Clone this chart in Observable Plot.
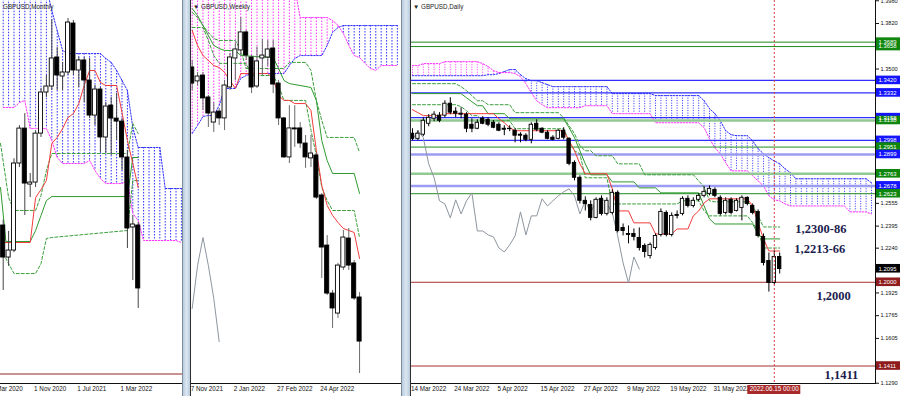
<!DOCTYPE html>
<html><head><meta charset="utf-8">
<script src="https://cdn.jsdelivr.net/npm/d3@7"></script>
<script src="https://cdn.jsdelivr.net/npm/@observablehq/plot@0.6"></script>
<style>
html,body{margin:0;padding:0;background:#fff;}
#wrap{position:relative;width:900px;height:396px;overflow:hidden;background:#fff;}
.panel{position:absolute;top:0;height:396px;overflow:hidden;}
.sep{position:absolute;top:0;height:396px;box-sizing:border-box;background:linear-gradient(to right,#b9cbdd,#dbe6f1,#b9cbdd);border-left:1px solid #7d8d9e;border-right:1px solid #2e2e2e;}
.ln{position:absolute;background:#111;}
</style></head>
<body><div id="wrap">
<div class="panel" id="p1" style="left:0;width:182px"></div>
<div class="panel" id="p2" style="left:190px;width:212px"></div>
<div class="panel" id="p3" style="left:410px;width:490px"></div>
<div class="sep" style="left:182px;width:9px"></div>
<div class="sep" style="left:401px;width:10px"></div>
<div class="ln" style="left:0;top:383px;width:182px;height:1px"></div>
<div class="ln" style="left:191px;top:383px;width:210px;height:1px"></div>
<div class="ln" style="left:411px;top:383px;width:465px;height:1px"></div>
<div class="ln" style="left:875px;top:0;width:1px;height:384px"></div>
</div>
<script>
// ================= DATA =================
// ---- Monthly (index 0 = May 2020), [open, high, low, close]
const monthlyOHLC = [
[1.2597,1.2640,1.2078,1.2341],[1.2341,1.2550,1.2270,1.2397],[1.2397,1.3130,1.2380,1.3092],
[1.3092,1.3395,1.3060,1.3371],[1.3371,1.3491,1.2677,1.2932],[1.2924,1.3012,1.2820,1.2940],
[1.2940,1.3355,1.2900,1.3331],[1.3331,1.3691,1.3300,1.3659],[1.3659,1.3795,1.3619,1.3707],
[1.3707,1.4240,1.3675,1.3931],[1.3939,1.4018,1.3675,1.3795],[1.3787,1.3899,1.3675,1.3819],
[1.3819,1.4250,1.3795,1.4218],[1.4210,1.4234,1.3795,1.3835],[1.3835,1.3939,1.3699,1.3915],
[1.3915,1.3939,1.3579,1.3755],[1.3755,1.3931,1.3451,1.3475],[1.3475,1.3715,1.3395,1.3683],
[1.3683,1.3699,1.3180,1.3300],[1.3300,1.3579,1.3172,1.3547],[1.3555,1.3619,1.3156,1.3451],
[1.3451,1.3651,1.3276,1.3427],[1.3427,1.3451,1.3036,1.3140],[1.3140,1.3196,1.2413,1.2573],
[1.2581,1.2677,1.2157,1.2605],[1.2597,1.2621,1.1934,1.2094]];
const monthlySpanA = [1.4500,1.4500,1.4500,1.4500,1.4500,1.4500,1.4500,1.4500,1.4500,1.4314,1.4154,1.3994,
1.3970,1.3970,1.3970,1.3970,1.3970,1.3970,1.3970,1.3931,1.3899,1.3835,1.3755,1.3675,1.3379,
1.3220,1.3220,1.3220,1.3220,1.3220,1.2892,1.2892,1.2892,1.2892];
const monthlySpanB = [1.3539,1.3539,1.3539,1.3579,1.3595,1.3371,1.3371,1.3371,1.3371,1.3276,1.3140,
1.3092,1.3092,1.3092,1.3092,1.3092,1.3116,1.3036,1.2972,1.2932,1.2932,1.2932,1.2932,1.2956,1.2693,1.2637,
1.2477,1.2477,1.2477,1.2477,1.2477,1.2477,1.2477,1.2461];
const monthlyTenkan = [[0,1.2461],[5,1.2461],[6,1.2820],[7,1.2884],[8,1.2956],[9,1.3252],[10,1.3300],[11,1.3371],
[12,1.3459],[13,1.3491],[14,1.3571],[15,1.3715],[16,1.3835],[17,1.3835],[18,1.3739],[19,1.3715],[21,1.3715],
[22,1.3499],[23,1.3276],[24,1.3092],[25,1.2900]];
const monthlyKijun = [[-0.5,1.2900],[0.5,1.2469],[5,1.2469],[6,1.2557],[7,1.2677],[8,1.2796],[9,1.2828],[23,1.2828],[24,1.3140],[25,1.3140]];
const monthlyDash1 = [[-0.5,1.3252],[1,1.2820],[2,1.2717],[6,1.2717],[7,1.2836],[8,1.3036],[9,1.3172],[23,1.3172],[24,1.3411],[25,1.3331]];
const monthlyDash2 = [[0,1.2373],[1,1.2293],[2,1.2213],[6,1.2213],[7,1.2293],[8,1.2493],[9,1.2501],[23,1.2557],[24,1.2956],[25,1.2956]];
const monthlyLevels = [1.1411];
const monthlyLabels = [[-2,"1 Mar 2020"],[6,"1 Nov 2020"],[14,"1 Jul 2021"],[22,"1 Mar 2022"]];

// ---- Weekly (index 0 = 7 Nov 2021)
const weeklyOHLC = [
[1.3495,1.3530,1.3377,1.3413],[1.3424,1.3469,1.3403,1.3449],[1.3454,1.3469,1.3276,1.3337],
[1.3342,1.3352,1.3189,1.3260],[1.3214,1.3316,1.3163,1.3265],[1.3270,1.3286,1.3199,1.3235],
[1.3235,1.3429,1.3173,1.3403],[1.3393,1.3567,1.3378,1.3546],[1.3541,1.3618,1.3429,1.3587],
[1.3582,1.3750,1.3556,1.3674],[1.3674,1.3684,1.3531,1.3556],[1.3546,1.3556,1.3362,1.3393],
[1.3398,1.3600,1.3388,1.3526],[1.3541,1.3638,1.3454,1.3556],[1.3546,1.3633,1.3500,1.3587],
[1.3592,1.3633,1.3362,1.3408],[1.3413,1.3429,1.3199,1.3235],[1.3235,1.3240,1.3031,1.3036],
[1.3036,1.3300,1.3005,1.3184],[1.3184,1.3300,1.3087,1.3179],[1.3184,1.3214,1.3082,1.3107],
[1.3107,1.3148,1.2980,1.3036],[1.3031,1.3148,1.2985,1.3056],[1.3046,1.3061,1.2821,1.2831],
[1.2842,1.2852,1.2418,1.2576],[1.2586,1.2637,1.2331,1.2341],[1.2341,1.2357,1.2163,1.2265],
[1.2239,1.2495,1.2214,1.2484],[1.2474,1.2663,1.2459,1.2627],[1.2622,1.2673,1.2459,1.2484],
[1.2495,1.2510,1.2306,1.2316],[1.2321,1.2346,1.1933,1.2096]];
const weeklySpanA = [1.3158,1.3199,1.3245,1.3250,1.3250,1.3301,1.3388,1.3388,1.3388,1.3439,1.3454,
1.3464,1.3464,1.3464,1.3464,1.3464,1.3464,1.3464,1.3505,1.3541,1.3556,1.3556,1.3556,1.3556,1.3556,
1.3608,1.3674,1.3699,1.3709,1.3709,1.3709,1.3709,1.3709,1.3709,1.3709,1.3709,1.3709,1.3709,1.3709];
const weeklySpanB = [1.3900,1.3900,1.3900,1.3900,1.3900,1.3900,1.3900,1.3900,1.3900,1.3900,1.3900,1.3900,
1.3900,1.3900,1.3900,1.3900,1.3900,1.3900,1.3900,1.3900,1.3750,1.3750,1.3750,1.3750,1.3750,1.3750,
1.3735,1.3710,1.3669,1.3608,1.3556,1.3546,1.3516,1.3490,1.3480,1.3505,1.3505,1.3505,1.3505];
const weeklyTenkan = [[0,1.3684],[1,1.3607],[2,1.3556],[3,1.3531],[4,1.3505],[5,1.3495],[6,1.3470],[7,1.3429],
[8,1.3388],[9,1.3464],[14,1.3464],[15,1.3439],[16,1.3352],[17,1.3327],[18,1.3327],[19,1.3311],[21,1.3311],
[22,1.3276],[23,1.3071],[24,1.2893],[25,1.2791],[26,1.2740],[27,1.2704],[28,1.2673],[29,1.2663],[30,1.2653],[31,1.2520]];
const weeklyKijun = [[0,1.3796],[1,1.3760],[2,1.3709],[3,1.3658],[4,1.3608],[5,1.3592],[6,1.3582],[8,1.3582],
[9,1.3556],[15,1.3546],[16,1.3490],[17,1.3429],[18,1.3413],[22,1.3393],[23,1.3327],[24,1.3122],[25,1.3020],
[26,1.2954],[30,1.2954],[31,1.2852]];
const weeklyDash1 = [[0,1.3776],[1,1.3750],[2,1.3709],[3,1.3674],[4,1.3643],[5,1.3633],[8,1.3633],[9,1.3582],
[10,1.3490],[17,1.3490],[18,1.3521],[21,1.3521],[22,1.3480],[23,1.3327],[24,1.3225],[25,1.3138],[30,1.3138],[31,1.3061]];
const weeklyDash2 = [[0,1.3699],[2,1.3699],[3,1.3633],[4,1.3556],[5,1.3516],[10,1.3516],[11,1.3454],[15,1.3454],
[16,1.3403],[17,1.3327],[21,1.3327],[22,1.3174],[23,1.3046],[24,1.2883],[25,1.2816],[26,1.2765],[30,1.2765],[31,1.2627]];
const weeklyLabels = [[0,"7 Nov 2021"],[8,"2 Jan 2022"],[16,"27 Feb 2022"],[24,"24 Apr 2022"]];

// ---- Daily (index 0 = 14 Mar 2022)
const dailyOHLC = [
[1.3045,1.3080,1.2995,1.3009],[1.3009,1.3066,1.2995,1.3045],[1.3038,1.3157,1.3024,1.3136],
[1.3115,1.3179,1.3094,1.3157],[1.3150,1.3200,1.3129,1.3179],[1.3172,1.3193,1.3122,1.3136],
[1.3172,1.3277,1.3157,1.3256],[1.3256,1.3298,1.3179,1.3193],[1.3200,1.3228,1.3157,1.3186],
[1.3186,1.3228,1.3150,1.3179],[1.3179,1.3193,1.3052,1.3080],[1.3108,1.3150,1.3052,1.3080],
[1.3080,1.3143,1.3073,1.3122],[1.3150,1.3165,1.3108,1.3115],[1.3143,1.3157,1.3094,1.3108],
[1.3122,1.3136,1.3080,1.3087],[1.3108,1.3122,1.3059,1.3066],[1.3080,1.3101,1.3031,1.3073],
[1.3080,1.3101,1.3059,1.3077],[1.3066,1.3080,1.2981,1.3031],[1.3038,1.3052,1.2981,1.3031],
[1.3031,1.3045,1.2988,1.3002],[1.3002,1.3122,1.2974,1.3108],[1.3115,1.3143,1.3059,1.3073],
[1.3080,1.3087,1.3045,1.3052],[1.3052,1.3066,1.3002,1.3009],[1.3017,1.3031,1.2995,1.3002],
[1.3009,1.3073,1.3002,1.3066],[1.3066,1.3087,1.3002,1.3017],[1.3009,1.3017,1.2819,1.2833],
[1.2840,1.2854,1.2713,1.2735],[1.2735,1.2749,1.2551,1.2573],[1.2573,1.2601,1.2502,1.2551],
[1.2544,1.2573,1.2432,1.2453],[1.2453,1.2594,1.2446,1.2580],[1.2587,1.2608,1.2467,1.2481],
[1.2481,1.2594,1.2467,1.2573],[1.2488,1.2650,1.2474,1.2629],[1.2629,1.2643,1.2347,1.2361],
[1.2382,1.2410,1.2326,1.2361],[1.2340,1.2396,1.2270,1.2333],[1.2340,1.2375,1.2291,1.2319],
[1.2312,1.2382,1.2220,1.2241],[1.2256,1.2270,1.2171,1.2213],[1.2185,1.2277,1.2164,1.2263],
[1.2241,1.2340,1.2227,1.2326],[1.2333,1.2516,1.2319,1.2495],[1.2488,1.2502,1.2319,1.2333],
[1.2333,1.2488,1.2319,1.2467],[1.2474,1.2502,1.2446,1.2467],[1.2481,1.2601,1.2467,1.2587],
[1.2587,1.2608,1.2523,1.2537],[1.2537,1.2594,1.2523,1.2573],[1.2580,1.2622,1.2566,1.2608],
[1.2608,1.2671,1.2594,1.2636],[1.2622,1.2678,1.2608,1.2657],[1.2650,1.2664,1.2594,1.2608],
[1.2594,1.2608,1.2467,1.2481],[1.2488,1.2594,1.2474,1.2573],[1.2580,1.2594,1.2474,1.2488],
[1.2502,1.2587,1.2495,1.2573],[1.2523,1.2608,1.2432,1.2594],[1.2594,1.2601,1.2537,1.2551],
[1.2537,1.2551,1.2474,1.2488],[1.2495,1.2509,1.2312,1.2326],[1.2319,1.2340,1.2115,1.2136],
[1.2150,1.2206,1.1931,1.1995],[1.1995,1.2220,1.1981,1.2178],[1.2178,1.2206,1.2058,1.2093]];
const dailySpanA = [1.3453,1.3453,1.3453,1.3453,1.3453,1.3453,1.3453,1.3453,1.3453,1.3453,1.3453,1.3453,1.3453,1.3453,
1.3460,1.3460,1.3468,1.3482,1.3496,1.3496,1.3460,1.3432,1.3418,1.3418,1.3404,1.3390,
1.3376,1.3376,1.3376,1.3376,1.3376,1.3376,1.3376,1.3376,1.3376,1.3376,1.3376,
1.3327,1.3327,1.3327,1.3327,1.3327,1.3327,1.3327,1.3327,
1.3313,1.3313,1.3313,1.3313,1.3313,1.3313,1.3313,1.3313,1.3313,
1.3277,1.3221,1.3186,1.3136,1.3066,1.3038,1.3031,1.3031,1.3031,1.2995,1.2939,1.2904,1.2876,1.2854,1.2833,1.2798,1.2770,
1.2728,1.2728,1.2728,1.2728,1.2728,1.2728,1.2728,1.2728,1.2728,1.2728,1.2728,1.2728,1.2728,1.2728,1.2699];
const dailySpanB = [1.3524,1.3524,1.3538,1.3538,1.3538,1.3538,1.3552,1.3552,1.3552,1.3552,1.3552,1.3552,1.3552,1.3538,
1.3517,1.3489,1.3475,1.3475,1.3475,1.3468,1.3446,1.3397,1.3334,1.3277,1.3249,1.3228,
1.3228,1.3228,1.3228,1.3228,1.3228,1.3228,1.3242,1.3242,1.3242,1.3242,1.3242,
1.3186,1.3186,1.3186,1.3186,1.3186,1.3186,1.3186,1.3186,
1.3122,1.3122,1.3122,1.3122,1.3122,1.3122,1.3122,1.3122,1.3122,
1.3087,1.3009,1.2946,1.2904,1.2840,1.2784,1.2784,1.2784,1.2784,1.2749,1.2713,1.2678,1.2608,1.2580,1.2573,1.2551,1.2537,
1.2537,1.2537,1.2537,1.2537,1.2537,1.2537,1.2537,1.2537,1.2537,1.2537,1.2495,1.2495,1.2495,1.2495,1.2481];
const dailyTenkan = [[0,1.3214],[1,1.3193],[2,1.3172],[5,1.3172],[6,1.3186],[15,1.3186],[16,1.3150],[17,1.3122],
[18,1.3087],[19,1.3066],[28,1.3066],[29,1.2995],[30,1.2925],[31,1.2833],[32,1.2763],[36,1.2763],[37,1.2657],
[38,1.2502],[40,1.2502],[41,1.2418],[44,1.2418],[45,1.2340],[48,1.2340],[49,1.2375],[51,1.2375],[52,1.2467],
[53,1.2502],[54,1.2558],[55,1.2587],[62,1.2587],[63,1.2537],[64,1.2418],[65,1.2305],[66,1.2220],[68,1.2220]];
const dailyKijun = [[0,1.3327],[9,1.3327],[10,1.3298],[11,1.3270],[12,1.3242],[13,1.3242],[14,1.3186],[17,1.3186],
[18,1.3150],[28,1.3150],[29,1.3087],[30,1.3017],[31,1.2925],[32,1.2833],[33,1.2756],[36,1.2756],[37,1.2706],
[41,1.2706],[42,1.2664],[45,1.2664],[46,1.2629],[53,1.2629],[54,1.2537],[55,1.2446],[56,1.2410],[63,1.2410],
[64,1.2340],[65,1.2305],[68,1.2305]];
const dailyDash1 = [[0,1.3397],[8,1.3397],[9,1.3376],[10,1.3348],[11,1.3313],[12,1.3277],[13,1.3277],[14,1.3249],
[18,1.3249],[19,1.3193],[27,1.3193],[28,1.3157],[29,1.3101],[30,1.3045],[31,1.2960],[32,1.2925],[33,1.2925],
[34,1.2890],[37,1.2890],[38,1.2833],[42,1.2833],[43,1.2756],[52,1.2756],[53,1.2713],[54,1.2671],[55,1.2573],
[56,1.2566],[62,1.2566],[63,1.2537],[64,1.2467],[65,1.2389],[68,1.2389]];
const dailyDash2 = [[0,1.3249],[8,1.3249],[9,1.3235],[10,1.3207],[11,1.3172],[12,1.3172],[13,1.3136],[18,1.3136],
[19,1.3080],[28,1.3080],[29,1.2995],[30,1.2925],[31,1.2904],[32,1.2735],[36,1.2735],[37,1.2551],[49,1.2551],
[50,1.2573],[53,1.2573],[54,1.2502],[55,1.2467],[62,1.2467],[63,1.2418],[64,1.2361],[65,1.2241],[68,1.2241]];
const dailyLabels = [[0,"14 Mar 2022"],[8,"24 Mar 2022"],[16,"5 Apr 2022"],[24,"15 Apr 2022"],[32,"27 Apr 2022"],
[40,"9 May 2022"],[48,"19 May 2022"],[56,"31 May 2022"]];
// visible price-axis ticks (others are hidden behind level boxes in the original)
const dailyTicks = [1.3980,1.3820,1.3500,1.2555,1.2395,1.2240,1.1925,1.1765,1.1605,1.1290];
// horizontal levels: value, kind
const levelValues = [1.3689,1.3658,1.3420,1.3332,1.3158,1.3138,1.2998,1.2951,1.2899,1.2763,1.2678,1.2623,1.2000,1.1411];
const levelKinds  = ["g","g","b","b","b","lg","b","g","lb","lg","lb","g","r","r"];
const currentPrice = [1.2095];
const cursorIndex = [67];
const cursorText = "2022.06.15 00:00";
const noteTexts = ["1,2300-86","1,2213-66","1,2000","1,1411"];
const noteIdx = [70.9,70.7,74.8,76.3];
const notePrice = [1.2378,1.2231,1.1900,1.1351];

// ================= HELPERS =================
const FONT = "'Liberation Sans', Arial, sans-serif";
const BLUE = "#2c2cff", MAG = "#ff30ff";
const toRows = ohlc => ohlc.map(([o,h,l,c], i) => ({i, o, h, l, c}));
const pts = arr => arr.map(([i, v]) => ({i, v}));

function candles(rows, wick, half) {
  return [
    Plot.ruleX(rows, {x: "i", y1: "l", y2: "h", stroke: wick, strokeWidth: 1}),
    Plot.rect(rows, {x1: d => d.i - half, x2: d => d.i + half, y1: "o", y2: "c",
      fill: d => d.c >= d.o ? "#ffffff" : "#000000", stroke: "#000", strokeWidth: 0.9})
  ];
}
function cloud(A, B, dash) {
  const rows = A.map((a, i) => ({i, a, b: B[i]}));
  return [
    Plot.ruleX(rows, {x: "i", y1: "a", y2: "b", stroke: d => d.a >= d.b ? BLUE : MAG,
      strokeDasharray: dash, strokeWidth: 1, clip: true}),
    Plot.line(rows, {x: "i", y: "a", stroke: BLUE, strokeDasharray: "1.5,1.5", strokeWidth: 1, clip: true}),
    Plot.line(rows, {x: "i", y: "b", stroke: MAG, strokeDasharray: "1.5,1.5", strokeWidth: 1, clip: true})
  ];
}
function ichiLines(tenkan, kijun, d1, d2) {
  return [
    Plot.line(pts(d1), {x: "i", y: "v", stroke: "#3c9f3c", strokeDasharray: "3,2", strokeWidth: 1, clip: true}),
    Plot.line(pts(d2), {x: "i", y: "v", stroke: "#3c9f3c", strokeDasharray: "3,2", strokeWidth: 1, clip: true}),
    Plot.line(pts(kijun), {x: "i", y: "v", stroke: "#2f9a2f", strokeWidth: 1, clip: true}),
    Plot.line(pts(tenkan), {x: "i", y: "v", stroke: "#f23c3c", strokeWidth: 1, clip: true})
  ];
}
function bottomLabels(list) {
  return Plot.text(list.map(([i, t]) => ({i, t})), {x: "i", text: "t", frameAnchor: "bottom", dy: 7, dx: -1.5,
    textAnchor: "start", fontSize: 6.3, fill: "#111"});
}
function title(t) {
  return Plot.text([t], {text: d => d, frameAnchor: "top-left", dx: 2.5, dy: 4.5, textAnchor: "start",
    fontSize: 6.3, fill: "#222"});
}
const baseStyle = {background: "transparent", fontFamily: FONT, fontSize: "5.6px", color: "#111"};

// ================= MONTHLY =================
const mRows = toRows(monthlyOHLC);
const p1 = Plot.plot({
  width: 182, height: 396, marginTop: 0, marginRight: 0, marginBottom: 13, marginLeft: 0,
  x: {domain: [-0.5, 33.2], axis: null},
  y: {domain: [1.1335, 1.4394], axis: null},
  style: baseStyle,
  marks: [
    ...cloud(monthlySpanA, monthlySpanB, "1.5,1.5"),
    Plot.ruleY(monthlyLevels, {stroke: "#c99292", strokeWidth: 2.2}),
    ...ichiLines(monthlyTenkan, monthlyKijun, monthlyDash1, monthlyDash2),
    ...candles(mRows, "#444", 0.38),
    bottomLabels(monthlyLabels),
    title("GBPUSD,Monthly")
  ]
});
document.getElementById("p1").appendChild(p1);

// ================= WEEKLY =================
const wRows = toRows(weeklyOHLC);
const wChikou = wRows.slice(26).map((d, k) => ({i: k, v: d.c}));
const p2 = Plot.plot({
  width: 212, height: 396, marginTop: 0, marginRight: 0, marginBottom: 13, marginLeft: 0,
  x: {domain: [-0.31, 38.95], axis: null},
  y: {domain: [1.1882, 1.3837], axis: null},
  style: baseStyle,
  marks: [
    ...cloud(weeklySpanA, weeklySpanB, "1.5,1.5"),
    Plot.line(wChikou, {x: "i", y: "v", stroke: "#8d96a0", strokeWidth: 1}),
    ...ichiLines(weeklyTenkan, weeklyKijun, weeklyDash1, weeklyDash2),
    ...candles(wRows, "#6a6a6a", 0.38),
    bottomLabels(weeklyLabels),
    title("\u25BC GBPUSD,Weekly")
  ]
});
document.getElementById("p2").appendChild(p2);

// ================= DAILY =================
const dRows = toRows(dailyOHLC);
const dChikou = dRows.slice(26).map((d, k) => ({i: k, v: d.c}));
const kindStroke = {g: "#1f8a1f", lg: "#92c892", b: "#2e2eff", lb: "#9c9cf2", r: "#a33030"};
const kindWidth = {g: 1, lg: 2.5, b: 1.2, lb: 2.5, r: 1};
const kindBox = {g: "#0f870f", lg: "#0f870f", b: "#1414ff", lb: "#1414ff", r: "#8e1c1c"};
const levels = levelValues.map((v, k) => ({v, kind: levelKinds[k]}));
const boxes = levels.concat(currentPrice.map(v => ({v, kind: "cur"})));
const boxFill = d => d.kind === "cur" ? "#000000" : kindBox[d.kind];
const notes = noteTexts.map((t, k) => ({t, i: noteIdx[k], v: notePrice[k]}));

const p3 = Plot.plot({
  width: 490, height: 396, marginTop: 0, marginRight: 25, marginBottom: 13, marginLeft: 0,
  x: {domain: [-0.37, 85.74], axis: null},
  y: {domain: [1.1288, 1.3982], axis: "right", ticks: dailyTicks, tickFormat: d => d.toFixed(4),
      tickSize: 3, tickPadding: 2, label: null},
  style: baseStyle,
  marks: [
    ...cloud(dailySpanA, dailySpanB, "1,1.5"),
    Plot.ruleY(levels, {y: "v", stroke: d => kindStroke[d.kind], strokeWidth: d => kindWidth[d.kind]}),
    Plot.line(dChikou, {x: "i", y: "v", stroke: "#8d96a0", strokeWidth: 1}),
    ...ichiLines(dailyTenkan, dailyKijun, dailyDash1, dailyDash2),
    ...candles(dRows, "#000", 0.31),
    Plot.ruleX(cursorIndex, {x: d => d, stroke: "#d84040", strokeDasharray: "2,2", strokeWidth: 1}),
    Plot.text(notes, {x: "i", y: "v", text: "t", textAnchor: "start", fontFamily: "'Liberation Serif', 'Times New Roman', serif",
      fontWeight: "bold", fontSize: 12.5, fill: "#1c1c4e"}),
    Plot.rect(boxes, {y1: "v", y2: "v", insetLeft: 466, insetRight: -25, insetTop: -4.3, insetBottom: -4.3, fill: boxFill}),
    Plot.text(boxes, {y: "v", text: d => d.v.toFixed(4), frameAnchor: "right", dx: 3, textAnchor: "start",
      fill: "#ffffff", fontSize: 5.9}),
    bottomLabels(dailyLabels),
    Plot.rect(cursorIndex, {x1: d => d, x2: d => d, insetLeft: -26.5, insetRight: -26.5, insetTop: 385, insetBottom: -11, fill: "#a82a2a"}),
    Plot.text(cursorIndex, {x: d => d, text: () => cursorText, frameAnchor: "bottom", dy: 7.5, fill: "#ffffff", fontSize: 6.3}),
    title("\u25BC GBPUSD,Daily")
  ]
});
document.getElementById("p3").appendChild(p3);
</script>
</body></html>
